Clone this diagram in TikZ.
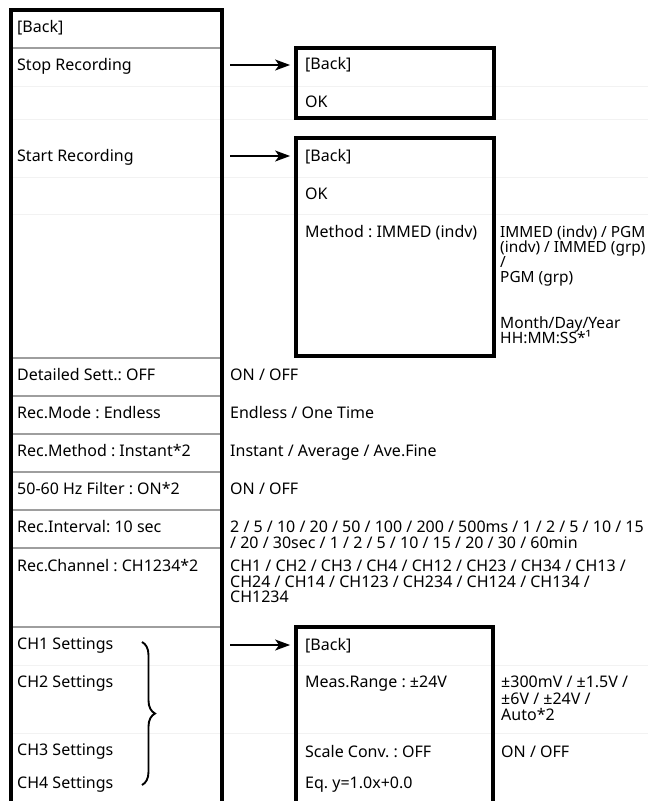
\documentclass[tikz,border=0pt]{standalone}
\usepackage{fontspec}
\setmainfont{Noto Sans}
\usetikzlibrary{arrows.meta,decorations.pathreplacing}
\newcommand\tstrut{\rule{0pt}{13pt}}
\AtBeginDocument{\lineskiplimit=-8pt\relax\frenchspacing}
\begin{document}
\begin{tikzpicture}[x=1pt,y=-1pt,
  txt/.style={anchor=north west, inner sep=0pt, align=left, yshift=7.3pt,
    font=\fontsize{16}{15.5}\selectfont},
  heavy/.style={line width=3.8pt},
  sepline/.style={line width=1.4pt, black!38},
  faint/.style={line width=1pt, black!5},
  menubox/.style={draw, line width=3.8pt, rectangle, inner sep=0pt, minimum width=198pt},
  arr/.style={line width=1.6pt, -{Stealth[length=15pt,width=11pt,inset=4pt]}, shorten >=4pt}
]
\useasboundingbox (0,0) rectangle (648,801);
\fill[white] (0,0) rectangle (648,801);

% faint grid lines
\foreach \yy in {86,119,177,214,665,733}
  \draw[faint] (13,\yy) -- (648,\yy);

% left table separators
\foreach \yy in {48,358,396,434,472,510,548,627}
  \draw[sepline] (12,\yy) -- (221,\yy);

% left table frame
\draw[heavy] (11,806) -- (11,10) -- (222,10) -- (222,806);

% sub-menu boxes
\node[menubox, minimum height=70pt] (stopbox) at (395,83) {};
\node[menubox, minimum height=218pt] (startbox) at (395,247) {};
\node[menubox, minimum height=214pt, minimum width=197pt] (chbox) at (394.5,734) {};

% left column texts
\node[txt] (l0) at (17,27) {\tstrut{}[Back]};
\node[txt] (l1) at (17,65) {\tstrut{}Stop Recording};
\node[txt] (l2) at (17,156) {\tstrut{}Start Recording};
\node[txt] (l3) at (17,375) {\tstrut{}Detailed Sett.: OFF};
\node[txt] (l4) at (17,413) {\tstrut{}Rec.Mode : Endless};
\node[txt] (l5) at (17,451) {\tstrut{}Rec.Method : Instant*2};
\node[txt] (l6) at (17,489) {\tstrut{}50-60 Hz Filter : ON*2};
\node[txt] (l7) at (17,527) {\tstrut{}Rec.Interval: 10 sec};
\node[txt] (l8) at (17,566) {\tstrut{}Rec.Channel : CH1234*2};
\node[txt] (l9) at (17,644) {\tstrut{}CH1 Settings};
\node[txt] (l10) at (17,682) {\tstrut{}CH2 Settings};
\node[txt] (l11) at (17,750) {\tstrut{}CH3 Settings};
\node[txt] (l12) at (17,783) {\tstrut{}CH4 Settings};

% right column options
\node[txt] (r3) at (230,375) {\tstrut{}ON / OFF};
\node[txt] (r4) at (230,413) {\tstrut{}Endless / One Time};
\node[txt] (r5) at (230,451) {\tstrut{}Instant / Average / Ave.Fine};
\node[txt] (r6) at (230,489) {\tstrut{}ON / OFF};
\node[txt] (r7) at (230,527) {\tstrut{}2 / 5 / 10 / 20 / 50 / 100 / 200 / 500ms / 1 / 2 / 5 / 10 / 15\\/ 20 / 30sec / 1 / 2 / 5 / 10 / 15 / 20 / 30 / 60min};
\node[txt] (r8) at (230,566) {\tstrut{}CH1 / CH2 / CH3 / CH4 / CH12 / CH23 / CH34 / CH13 /\\CH24 / CH14 / CH123 / CH234 / CH124 / CH134 /\\CH1234};

% stop box contents
\node[txt] (s0) at (305,64) {\tstrut{}[Back]};
\node[txt] (s1) at (305,102) {\tstrut{}OK};

% start box contents
\node[txt] (t0) at (305,156) {\tstrut{}[Back]};
\node[txt] (t1) at (305,194) {\tstrut{}OK};
\node[txt] (t2) at (305,232) {\tstrut{}Method : IMMED (indv)};
\node[txt, font=\fontsize{15.4}{15}\selectfont] (t2o) at (500,232) {\tstrut{}IMMED (indv) / PGM\\(indv) / IMMED (grp)\\/\\PGM (grp)};
\node[txt, font=\fontsize{15.6}{15}\selectfont] (t3o) at (500,323) {\tstrut{}Month/Day/Year\\HH:MM:SS*¹};

% channel box contents
\node[txt] (c0) at (305,645) {\tstrut{}[Back]};
\node[txt] (c1) at (305,682) {\tstrut{}Meas.Range : ±24V};
\node[txt, font=\fontsize{16}{16.5}\selectfont] (c1o) at (501,682) {\tstrut{}±300mV / ±1.5V /\\±6V / ±24V /\\Auto*2};
\node[txt] (c2) at (305,752) {\tstrut{}Scale Conv. : OFF};
\node[txt] (c2o) at (501,752) {\tstrut{}ON / OFF};
\node[txt] (c3) at (305,783) {\tstrut{}Eq. y=1.0x+0.0};

% arrows
\coordinate (a1) at (230,65);
\coordinate (a2) at (230,156);
\coordinate (a3) at (230,645);
\draw[arr] (a1) -- (a1 -| stopbox.west);
\draw[arr] (a2) -- (a2 -| startbox.west);
\draw[arr] (a3) -- (a3 -| chbox.west);

% brace
\coordinate (b1) at (142,642);
\coordinate (b2) at (142,785);
\draw[line width=1.9pt, decorate, decoration={brace, amplitude=13pt}] (b1) -- (b2);
\end{tikzpicture}
\end{document}
